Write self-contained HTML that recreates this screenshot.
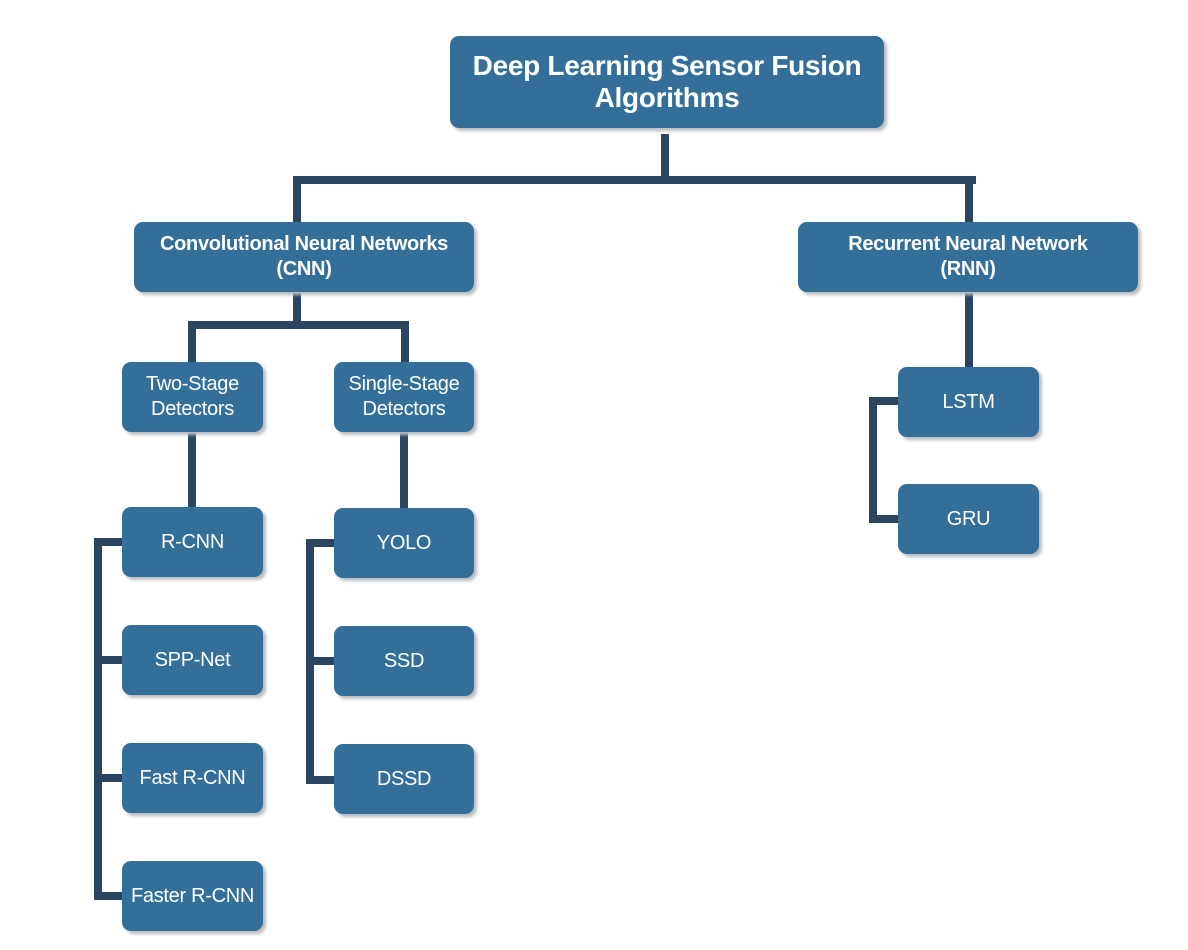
<!DOCTYPE html>
<html><head><style>
body{margin:0;width:1188px;height:950px;background:#fff;position:relative;overflow:hidden;font-family:"Liberation Sans",sans-serif}
.b{position:absolute;background:#336f98;color:#fff;border-radius:9px;box-shadow:3px 3px 3px #b8bcc0;display:flex;align-items:center;justify-content:center;text-align:center;font-size:20px;line-height:25px;letter-spacing:-0.3px;white-space:nowrap}
.l{position:absolute;background:#2b4560}
</style></head><body>
<div class="l" style="left:661px;top:134px;width:8px;height:48px"></div>
<div class="l" style="left:293px;top:176px;width:683px;height:8px"></div>
<div class="l" style="left:293px;top:176px;width:8px;height:48px"></div>
<div class="l" style="left:965px;top:176px;width:8px;height:48px"></div>
<div class="l" style="left:293px;top:292px;width:8px;height:36px"></div>
<div class="l" style="left:188px;top:321px;width:221px;height:8px"></div>
<div class="l" style="left:188px;top:321px;width:8px;height:42px"></div>
<div class="l" style="left:401px;top:321px;width:8px;height:42px"></div>
<div class="l" style="left:188px;top:432px;width:8px;height:76px"></div>
<div class="l" style="left:400px;top:432px;width:8px;height:76px"></div>
<div class="l" style="left:94px;top:538px;width:8px;height:362px"></div>
<div class="l" style="left:94px;top:538px;width:30px;height:8px"></div>
<div class="l" style="left:94px;top:656px;width:30px;height:8px"></div>
<div class="l" style="left:94px;top:774px;width:30px;height:8px"></div>
<div class="l" style="left:94px;top:892px;width:30px;height:8px"></div>
<div class="l" style="left:306px;top:539px;width:8px;height:245px"></div>
<div class="l" style="left:306px;top:539px;width:30px;height:8px"></div>
<div class="l" style="left:306px;top:657px;width:30px;height:8px"></div>
<div class="l" style="left:306px;top:776px;width:30px;height:8px"></div>
<div class="l" style="left:965px;top:292px;width:8px;height:76px"></div>
<div class="l" style="left:869px;top:397px;width:8px;height:126px"></div>
<div class="l" style="left:869px;top:397px;width:31px;height:8px"></div>
<div class="l" style="left:869px;top:515px;width:31px;height:8px"></div>
<div class="b" style="left:450px;top:36px;width:434px;height:92px;font-size:28px;line-height:32px;font-weight:bold">Deep Learning Sensor Fusion<br>Algorithms</div>
<div class="b" style="left:134px;top:222px;width:340px;height:70px;font-weight:bold">Convolutional Neural Networks<br>(CNN)</div>
<div class="b" style="left:798px;top:222px;width:340px;height:70px;font-weight:bold">Recurrent Neural Network<br>(RNN)</div>
<div class="b" style="left:122px;top:362px;width:141px;height:70px">Two-Stage<br>Detectors</div>
<div class="b" style="left:334px;top:362px;width:140px;height:70px">Single-Stage<br>Detectors</div>
<div class="b" style="left:122px;top:507px;width:141px;height:70px">R-CNN</div>
<div class="b" style="left:122px;top:625px;width:141px;height:70px">SPP-Net</div>
<div class="b" style="left:122px;top:743px;width:141px;height:70px">Fast R-CNN</div>
<div class="b" style="left:122px;top:861px;width:141px;height:70px">Faster R-CNN</div>
<div class="b" style="left:334px;top:508px;width:140px;height:70px">YOLO</div>
<div class="b" style="left:334px;top:626px;width:140px;height:70px">SSD</div>
<div class="b" style="left:334px;top:744px;width:140px;height:70px">DSSD</div>
<div class="b" style="left:898px;top:367px;width:141px;height:70px">LSTM</div>
<div class="b" style="left:898px;top:484px;width:141px;height:70px">GRU</div>
</body></html>
